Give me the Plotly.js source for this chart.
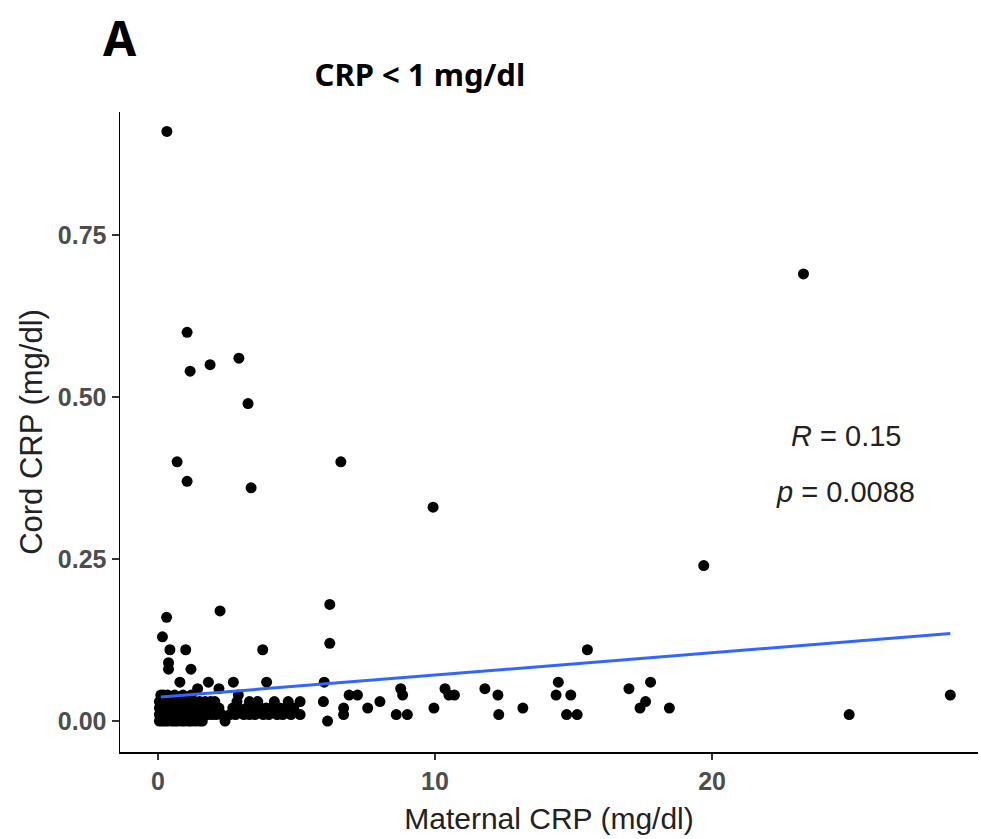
<!DOCTYPE html>
<html>
<head>
<meta charset="utf-8">
<script src="https://cdn.plot.ly/plotly-3.0.1.min.js"></script>
<style>html,body{margin:0;padding:0;background:#fff;}#chart{width:981px;height:839px;}</style>
</head>
<body>
<div id="chart"></div>
<script>
// Maternal CRP (x) and cord CRP (y), mg/dl
const maternalCRP = [
  // outliers / scattered points
  0.32, 23.3, 1.05, 1.16, 1.88, 2.92, 3.25, 0.69, 1.05, 3.36, 6.6, 9.93, 19.7,
  0.31, 2.24, 6.2, 6.2, 0.16, 0.43, 1.0, 3.78, 15.5, 0.38, 0.38, 1.19,
  0.79, 1.82, 2.72, 3.92, 1.43, 2.2, 6.0, 5.13, 5.13, 5.97, 6.12, 2.42,
  6.7, 6.7, 6.9, 7.2, 7.57, 8.01, 8.76, 8.83, 8.6, 9.0, 9.96, 10.36, 10.5, 10.7,
  11.8, 12.27, 12.3, 13.17, 14.45, 14.37, 14.9, 14.75, 15.13, 17.0, 17.78, 17.6,
  17.4, 18.46, 24.95, 28.6,
  // dense cluster, cord CRP 0.00
  0.05, 0.15, 0.25, 0.35, 0.5, 0.6, 0.7, 0.85, 0.95, 1.1, 1.2, 1.35, 1.5, 1.6,
  // cord CRP 0.01
  0.05, 0.1, 0.2, 0.3, 0.4, 0.5, 0.6, 0.7, 0.8, 0.9, 1.0, 1.1, 1.25, 1.4, 1.5, 1.65,
  1.8, 1.95, 2.1, 2.3, 2.6, 2.8, 3.1, 3.3, 3.5, 3.8, 4.0, 4.3, 4.5, 4.8,
  // cord CRP 0.02
  0.05, 0.15, 0.25, 0.4, 0.55, 0.7, 0.85, 1.0, 1.15, 1.3, 1.45, 1.6, 1.8, 2.0, 2.2,
  2.7, 2.9, 3.2, 3.4, 3.7, 3.9, 4.1, 4.4, 4.6, 4.9,
  // cord CRP 0.03
  0.05, 0.2, 0.35, 0.5, 0.65, 0.8, 0.95, 1.1, 1.3, 1.5, 1.7, 1.9, 2.05,
  2.85, 3.3, 3.6, 4.2, 4.7,
  // cord CRP 0.04
  0.1, 0.2, 0.35, 0.6, 0.9, 1.2, 2.9
];
const cordCRP = [
  0.91, 0.69, 0.60, 0.54, 0.55, 0.56, 0.49, 0.40, 0.37, 0.36, 0.40, 0.33, 0.24,
  0.16, 0.17, 0.18, 0.12, 0.13, 0.11, 0.11, 0.11, 0.11, 0.09, 0.08, 0.08,
  0.06, 0.06, 0.06, 0.06, 0.05, 0.05, 0.06, 0.03, 0.01, 0.03, 0.00, 0.00,
  0.02, 0.01, 0.04, 0.04, 0.02, 0.03, 0.05, 0.04, 0.01, 0.01, 0.02, 0.05, 0.04, 0.04,
  0.05, 0.04, 0.01, 0.02, 0.06, 0.04, 0.04, 0.01, 0.01, 0.05, 0.06, 0.03,
  0.02, 0.02, 0.01, 0.04,
  0, 0, 0, 0, 0, 0, 0, 0, 0, 0, 0, 0, 0, 0,
  0.01, 0.01, 0.01, 0.01, 0.01, 0.01, 0.01, 0.01, 0.01, 0.01, 0.01, 0.01, 0.01, 0.01, 0.01, 0.01,
  0.01, 0.01, 0.01, 0.01, 0.01, 0.01, 0.01, 0.01, 0.01, 0.01, 0.01, 0.01, 0.01, 0.01,
  0.02, 0.02, 0.02, 0.02, 0.02, 0.02, 0.02, 0.02, 0.02, 0.02, 0.02, 0.02, 0.02, 0.02, 0.02,
  0.02, 0.02, 0.02, 0.02, 0.02, 0.02, 0.02, 0.02, 0.02, 0.02,
  0.03, 0.03, 0.03, 0.03, 0.03, 0.03, 0.03, 0.03, 0.03, 0.03, 0.03, 0.03, 0.03,
  0.03, 0.03, 0.03, 0.03, 0.03,
  0.04, 0.04, 0.04, 0.04, 0.04, 0.04, 0.04
];
// Linear fit line (endpoints)
const fitX = [0.1, 28.6];
const fitY = [0.037, 0.135];
// Ticks
const xTickVals = [0, 10, 20];
const xTickText = ['0', '10', '20'];
const yTickVals = [0, 0.25, 0.5, 0.75];
const yTickText = ['0.00', '0.25', '0.50', '0.75'];
// Texts
const panelLabel = 'A';
const chartTitle = 'CRP < 1 mg/dl';
const statR = '0.15';
const statP = '0.0088';

const traces = [
  {
    x: maternalCRP, y: cordCRP, type: 'scatter', mode: 'markers',
    marker: {color: '#000000', size: 11, line: {width: 0}},
    hoverinfo: 'x+y', showlegend: false
  },
  {
    x: fitX, y: fitY, type: 'scatter', mode: 'lines',
    line: {color: '#3366FF', width: 3}, showlegend: false
  }
];

const tickFont = {family: 'Liberation Sans, Arial, sans-serif', size: 25, color: '#4D4D4D', weight: 'bold'};
const titleFont = {family: 'Liberation Sans, Arial, sans-serif', size: 30, color: '#222222'};

const layout = {
  width: 981, height: 839,
  margin: {l: 120, r: 3, t: 112, b: 87, pad: 0},
  paper_bgcolor: '#ffffff', plot_bgcolor: '#ffffff',
  showlegend: false,
  title: {
    text: '<b>' + chartTitle.replace('<', '&lt;') + '</b>',
    font: {family: 'Noto Sans, sans-serif', size: 31, color: '#000000'},
    x: 0.428, xanchor: 'center', xref: 'container',
    y: 1 - 75 / 839, yanchor: 'middle', yref: 'container'
  },
  xaxis: {
    range: [-1.372, 29.6],
    tickmode: 'array', tickvals: xTickVals, ticktext: xTickText,
    showgrid: false, zeroline: false,
    showline: true, linecolor: '#000000', linewidth: 1.5,
    ticks: 'outside', ticklen: 6, tickwidth: 1.5, tickcolor: '#333333',
    tickfont: tickFont,
    title: {text: 'Maternal CRP (mg/dl)', font: titleFont, standoff: 14},
    automargin: false
  },
  yaxis: {
    range: [-0.0478, 0.94],
    tickmode: 'array', tickvals: yTickVals, ticktext: yTickText,
    showgrid: false, zeroline: false,
    showline: true, linecolor: '#000000', linewidth: 1.5,
    ticks: 'outside', ticklen: 7, tickwidth: 1.5, tickcolor: '#333333',
    tickfont: tickFont,
    title: {text: 'Cord CRP (mg/dl)', font: {family: 'Liberation Sans, Arial, sans-serif', size: 31, color: '#222222'}, standoff: 6},
    automargin: false
  },
  annotations: [
    {
      text: '<b>' + panelLabel + '</b>', xref: 'paper', yref: 'paper',
      x: (120 - 120) / 858, y: (752 - 37) / 640, xanchor: 'center', yanchor: 'middle',
      showarrow: false, font: {family: 'Noto Sans, sans-serif', size: 48, color: '#000000'}
    },
    {
      text: '<i>R</i> = ' + statR, xref: 'x', yref: 'y', x: 24.84, y: 0.44,
      xanchor: 'center', yanchor: 'middle', showarrow: false,
      font: {family: 'Liberation Sans, Arial, sans-serif', size: 29, color: '#222222'}
    },
    {
      text: '<i>p</i> = ' + statP, xref: 'x', yref: 'y', x: 24.8, y: 0.353,
      xanchor: 'center', yanchor: 'middle', showarrow: false,
      font: {family: 'Liberation Sans, Arial, sans-serif', size: 29, color: '#222222'}
    }
  ]
};

Plotly.newPlot('chart', traces, layout, {displayModeBar: false, staticPlot: true});
</script>
</body>
</html>
